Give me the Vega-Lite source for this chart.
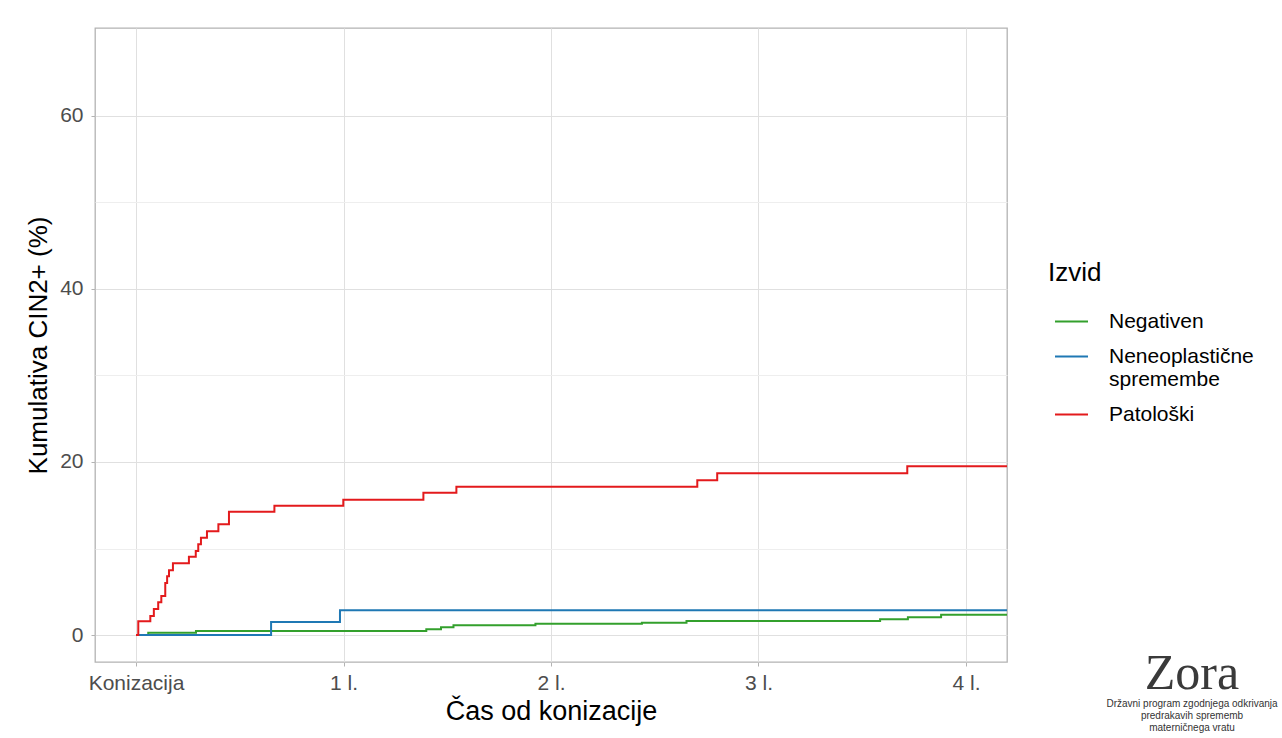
{
  "$schema": "https://vega.github.io/schema/vega-lite/v6.json",
  "autosize": "none",
  "width": 912,
  "height": 634,
  "padding": {"left": 95, "top": 28, "right": 275, "bottom": 76},
  "background": "white",
  "config": {
    "font": "Liberation Sans",
    "view": {"stroke": "#b3b3b3", "strokeWidth": 1.3}
  },
  "title": {
    "text": "Zora",
    "subtitle": ["Državni program zgodnjega odkrivanja", "predrakavih sprememb", "materničnega vratu"],
    "orient": "top",
    "anchor": "start",
    "frame": "group",
    "align": "center",
    "offset": 0,
    "dx": 1097,
    "dy": 705,
    "font": "Liberation Serif",
    "fontSize": 50,
    "fontWeight": "normal",
    "color": "#3a3a3a",
    "subtitleFont": "Liberation Sans",
    "subtitleFontSize": 10,
    "subtitleColor": "#333333",
    "subtitlePadding": 0,
    "subtitleLineHeight": 12
  },
  "data": {
    "values": [
      {"izvid": "Negativen", "t": 0, "v": 0},
      {"izvid": "Negativen", "t": 0.059, "v": 0.25},
      {"izvid": "Negativen", "t": 0.289, "v": 0.45},
      {"izvid": "Negativen", "t": 1.399, "v": 0.66},
      {"izvid": "Negativen", "t": 1.47, "v": 0.89},
      {"izvid": "Negativen", "t": 1.53, "v": 1.12},
      {"izvid": "Negativen", "t": 1.925, "v": 1.31},
      {"izvid": "Negativen", "t": 2.438, "v": 1.42},
      {"izvid": "Negativen", "t": 2.653, "v": 1.62},
      {"izvid": "Negativen", "t": 3.586, "v": 1.81},
      {"izvid": "Negativen", "t": 3.72, "v": 2.05},
      {"izvid": "Negativen", "t": 3.88, "v": 2.35},
      {"izvid": "Negativen", "t": 4.25, "v": 2.35},
      {"izvid": "Neneoplastične spremembe", "t": 0, "v": 0},
      {"izvid": "Neneoplastične spremembe", "t": 0.651, "v": 1.5},
      {"izvid": "Neneoplastične spremembe", "t": 0.983, "v": 2.85},
      {"izvid": "Neneoplastične spremembe", "t": 4.25, "v": 2.85},
      {"izvid": "Patološki", "t": 0, "v": 0},
      {"izvid": "Patološki", "t": 0.011, "v": 1.6},
      {"izvid": "Patološki", "t": 0.069, "v": 2.2},
      {"izvid": "Patološki", "t": 0.086, "v": 3.0},
      {"izvid": "Patološki", "t": 0.107, "v": 3.8},
      {"izvid": "Patološki", "t": 0.122, "v": 4.5},
      {"izvid": "Patološki", "t": 0.141, "v": 6.0},
      {"izvid": "Patološki", "t": 0.15, "v": 6.8},
      {"izvid": "Patološki", "t": 0.159, "v": 7.5},
      {"izvid": "Patološki", "t": 0.178, "v": 8.3},
      {"izvid": "Patološki", "t": 0.255, "v": 9.05},
      {"izvid": "Patološki", "t": 0.288, "v": 9.7},
      {"izvid": "Patološki", "t": 0.3, "v": 10.5},
      {"izvid": "Patološki", "t": 0.313, "v": 11.25},
      {"izvid": "Patološki", "t": 0.342, "v": 12.0},
      {"izvid": "Patološki", "t": 0.397, "v": 12.8},
      {"izvid": "Patološki", "t": 0.448, "v": 14.25},
      {"izvid": "Patološki", "t": 0.667, "v": 14.95},
      {"izvid": "Patološki", "t": 0.999, "v": 15.65},
      {"izvid": "Patološki", "t": 1.385, "v": 16.45},
      {"izvid": "Patološki", "t": 1.544, "v": 17.15},
      {"izvid": "Patološki", "t": 2.705, "v": 17.9},
      {"izvid": "Patološki", "t": 2.801, "v": 18.7},
      {"izvid": "Patološki", "t": 3.717, "v": 19.5},
      {"izvid": "Patološki", "t": 4.25, "v": 19.5}
    ]
  },
  "mark": {"type": "line", "interpolate": "step-after", "strokeWidth": 2, "clip": true},
  "encoding": {
    "x": {
      "field": "t",
      "type": "quantitative",
      "scale": {"domain": [-0.1976, 4.1976], "nice": false, "zero": false},
      "axis": {
        "values": [0, 1, 2, 3, 4],
        "labelExpr": "datum.value === 0 ? 'Konizacija' : datum.value + ' l.'",
        "labelFontSize": 21,
        "labelColor": "#4d4d4d",
        "labelPadding": 6,
        "labelFlush": false,
        "tickColor": "#b3b3b3",
        "tickSize": 4,
        "domain": false,
        "gridColor": "#e0e0e0",
        "gridWidth": 1,
        "title": "Čas od konizacije",
        "titleFontSize": 27,
        "titleFontWeight": "normal",
        "titleColor": "black",
        "titlePadding": 5
      }
    },
    "y": {
      "field": "v",
      "type": "quantitative",
      "scale": {"domain": [-3.12, 70.17], "nice": false, "zero": false},
      "axis": {
        "values": [0, 10, 20, 30, 40, 50, 60],
        "labelExpr": "datum.value % 20 === 0 ? datum.label : ''",
        "labelFontSize": 21,
        "labelColor": "#4d4d4d",
        "labelPadding": 8,
        "tickSize": 4,
        "tickColor": {"condition": {"test": "datum.value % 20 === 0", "value": "#b3b3b3"}, "value": "transparent"},
        "gridColor": {"condition": {"test": "datum.value % 20 === 0", "value": "#e0e0e0"}, "value": "#eeeeee"},
        "gridWidth": 1,
        "domain": false,
        "title": "Kumulativa CIN2+ (%)",
        "titleFontSize": 26,
        "titleFontWeight": "normal",
        "titleColor": "black",
        "titlePadding": 8
      }
    },
    "color": {
      "field": "izvid",
      "type": "nominal",
      "scale": {
        "domain": ["Negativen", "Neneoplastične spremembe", "Patološki"],
        "range": ["#33a02c", "#1f78b4", "#e31a1c"]
      },
      "legend": {
        "title": "Izvid",
        "orient": "none",
        "legendX": 953,
        "legendY": 232,
        "titleFontSize": 26,
        "titleFontWeight": "normal",
        "titleColor": "black",
        "titlePadding": 18,
        "labelFontSize": 21,
        "labelColor": "black",
        "labelLineHeight": 25,
        "labelOffset": 20,
        "labelExpr": "datum.label === 'Neneoplastične spremembe' ? ['Neneoplastične', 'spremembe'] : datum.label",
        "symbolType": "stroke",
        "symbolSize": 1089,
        "symbolStrokeWidth": 2,
        "symbolOffset": 6,
        "rowPadding": 7,
        "padding": 0
      }
    }
  }
}
